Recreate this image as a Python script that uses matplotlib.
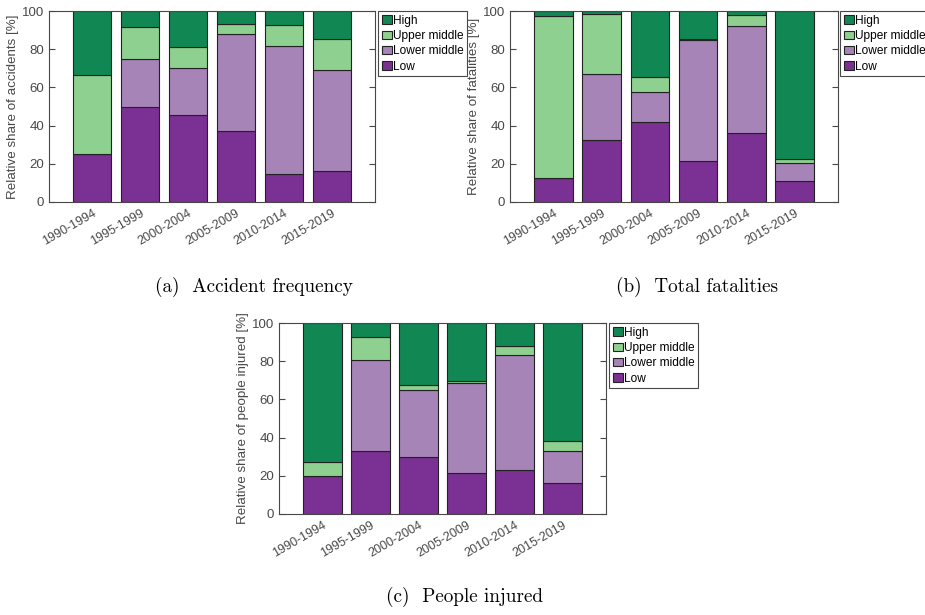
import matplotlib
matplotlib.use("Agg")
import matplotlib.pyplot as plt
import numpy as np

plt.rcParams["font.family"] = ["Liberation Sans", "DejaVu Sans"]

periods = ["1990-1994", "1995-1999", "2000-2004", "2005-2009", "2010-2014", "2015-2019"]
groups = ["Low", "Lower middle", "Upper middle", "High"]

# (a) Accident frequency, shares in %
acc_low = [25.0, 50.0, 45.7, 37.0, 14.5, 16.1]
acc_lowmid = [0.0, 25.0, 24.3, 51.1, 67.0, 53.0]
acc_upmid = [41.7, 16.7, 11.0, 4.9, 11.0, 16.2]
acc_high = [33.3, 8.3, 19.0, 7.0, 7.5, 14.7]

# (b) Total fatalities
fat_low = [12.4, 32.3, 41.7, 21.5, 36.1, 11.2]
fat_lowmid = [0.0, 34.5, 16.1, 63.3, 56.0, 9.0]
fat_upmid = [85.0, 31.6, 7.5, 0.5, 5.6, 2.5]
fat_high = [2.6, 1.6, 34.7, 14.7, 2.3, 77.3]

# (c) People injured
inj_low = [19.7, 32.8, 30.0, 21.5, 22.9, 16.1]
inj_lowmid = [0.0, 47.7, 34.9, 46.9, 60.2, 16.9]
inj_upmid = [7.7, 12.3, 2.8, 1.4, 5.0, 5.0]
inj_high = [72.6, 7.2, 32.3, 30.2, 11.9, 62.0]

colors = {"Low": "#7b3094", "Lower middle": "#a784b8", "Upper middle": "#8ed08f", "High": "#118854"}
ylabels = ["Relative share of accidents [%]", "Relative share of fatalities [%]",
           "Relative share of people injured [%]"]
captions = ["(a)  Accident frequency", "(b)  Total fatalities", "(c)  People injured"]

W, H = 925, 615
fig = plt.figure(figsize=(W / 100, H / 100), dpi=100)

# axes boxes in pixels: left, top, right, bottom
boxes = [(49, 11, 375, 202), (510, 11, 838, 202), (279, 323, 606, 514)]
legboxes = [(378, 11), (840, 11), (609, 323)]
capts = [(254, 287), (697, 287), (465, 597)]
data = [
    (acc_low, acc_lowmid, acc_upmid, acc_high),
    (fat_low, fat_lowmid, fat_upmid, fat_high),
    (inj_low, inj_lowmid, inj_upmid, inj_high),
]

gray = "#484848"
for k in range(3):
    l, t, r, b = boxes[k]
    ax = fig.add_axes([l / W, 1 - b / H, (r - l) / W, (b - t) / H])
    x = np.arange(1, len(periods) + 1)
    bottom = np.zeros(len(periods))
    handles = {}
    for g, vals in zip(groups, data[k]):
        v = np.array(vals)
        h = ax.bar(x, v, width=0.8, bottom=bottom, color=colors[g],
                   edgecolor="#222222", linewidth=0.8, label=g)
        handles[g] = h
        bottom = bottom + v
    ax.set_xlim(0.1, 6.9)
    ax.set_ylim(0, 100)
    ax.set_yticks([0, 20, 40, 60, 80, 100])
    ax.set_xticks(x)
    ax.set_xticklabels(periods, rotation=30, ha="right", rotation_mode="anchor",
                       fontsize=9, color=gray)
    ax.tick_params(axis="y", labelsize=9.5, labelcolor=gray, direction="in",
                   color=gray, right=True, length=4)
    ax.tick_params(axis="x", length=0, pad=4)
    for sp in ax.spines.values():
        sp.set_color(gray)
        sp.set_linewidth(0.8)
    ax.set_ylabel(ylabels[k], fontsize=9.6, color=gray, labelpad=2)
    lx, ly = legboxes[k]
    leg = ax.legend([handles[g] for g in groups[::-1]], groups[::-1],
                    loc="upper left",
                    bbox_to_anchor=(lx / W, 1 - ly / H), bbox_transform=fig.transFigure,
                    fontsize=8.6, frameon=True, fancybox=False, borderpad=0.3,
                    handlelength=0.9, handleheight=0.7, handletextpad=0.05,
                    labelspacing=0.28, borderaxespad=0, framealpha=1)
    leg.get_frame().set_edgecolor(gray)
    leg.get_frame().set_linewidth(0.8)
    cx, cy = capts[k]
    fig.text(cx / W, 1 - cy / H, captions[k], ha="center", va="center",
             fontsize=13.8, family="cmr10")

fig.savefig("out.png", dpi=100)
